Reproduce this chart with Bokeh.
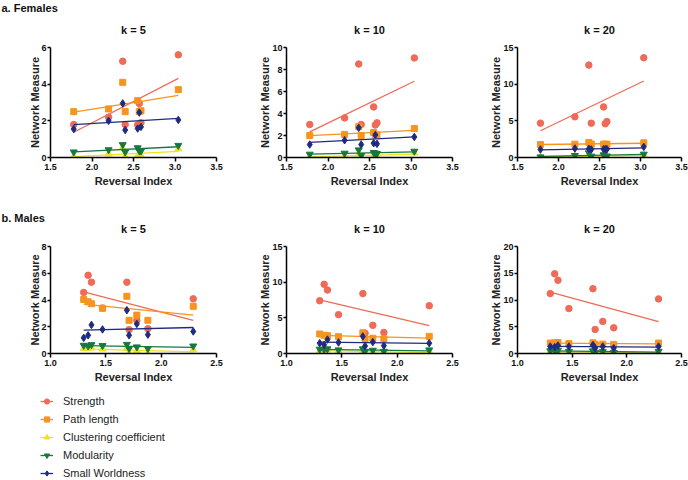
import numpy as np
from bokeh.plotting import figure
from bokeh.layouts import row, column
from bokeh.models import Range1d, FixedTicker, NumeralTickFormatter, Label, Legend, LegendItem
from bokeh.embed import file_html
from bokeh.resources import INLINE

# ---------------- data ----------------
series_names = ["Strength", "Path length", "Clustering coefficient", "Modularity", "Small Worldness"]
series_colors = ["#EF6A57", "#F7941D", "#F0E21C", "#15793F", "#1F2B7F"]
series_markers = ["circle", "square", "triangle", "inverted_triangle", "diamond"]

female_x = [1.78, 2.20, 2.37, 2.40, 2.55, 2.57, 2.59, 3.04]
male_x = [1.30, 1.34, 1.37, 1.47, 1.69, 1.71, 1.78, 1.88, 2.29]

# Females, k = 5
f5_strength = [1.80, 2.20, 5.25, 1.80, 1.78, 2.95, 1.90, 5.60]
f5_path = [2.50, 2.65, 4.10, 2.50, 3.10, 2.50, 2.55, 3.70]
f5_clustering = [0.05, 0.20, 0.53, 0.05, 0.10, 0.08, 0.13, 0.47]
f5_modularity = [0.30, 0.42, 0.70, 0.30, 0.53, 0.36, 0.35, 0.66]
f5_smallworld = [1.55, 2.00, 2.95, 1.50, 1.58, 2.45, 1.67, 2.05]

# Females, k = 10
f10_strength = [3.00, 3.60, 8.50, 3.00, 4.60, 2.95, 3.15, 9.05]
f10_path = [2.00, 2.10, 2.80, 2.00, 2.27, 2.05, 2.05, 2.63]
f10_clustering = [0.09, 0.18, 0.33, 0.06, 0.15, 0.12, 0.12, 0.42]
f10_modularity = [0.30, 0.39, 0.69, 0.18, 0.45, 0.39, 0.36, 0.57]
f10_smallworld = [1.18, 1.57, 2.70, 1.18, 1.30, 2.05, 1.24, 1.87]

# Females, k = 20
f20_strength = [4.68, 5.55, 12.60, 4.68, 6.90, 4.60, 4.90, 13.60]
f20_path = [1.77, 1.82, 2.05, 1.82, 1.82, 1.80, 1.82, 2.00]
f20_clustering = [0.10, 0.20, 0.35, 0.08, 0.15, 0.12, 0.12, 0.40]
f20_modularity = [0.08, 0.27, 0.64, 0.18, 0.36, 0.15, 0.20, 0.45]
f20_smallworld = [1.09, 1.23, 1.20, 1.10, 1.14, 1.14, 1.14, 1.45]

# Males, k = 5
m5_strength = [4.57, 5.85, 5.33, 3.40, 5.33, 1.78, 2.48, 1.85, 4.09]
m5_path = [4.04, 3.87, 3.72, 3.38, 4.28, 2.48, 2.87, 2.48, 3.53]
m5_clustering = [0.37, 0.39, 0.42, 0.34, 0.37, 0.02, 0.20, 0.02, 0.29]
m5_modularity = [0.61, 0.56, 0.66, 0.59, 0.68, 0.37, 0.49, 0.37, 0.56]
m5_smallworld = [1.17, 1.36, 2.14, 1.80, 3.24, 1.36, 2.21, 1.41, 1.65]

# Males, k = 10
m10_strength = [7.40, 9.70, 8.90, 5.45, 8.40, 2.85, 3.95, 2.95, 6.70]
m10_path = [2.73, 2.55, 2.50, 2.36, 2.90, 1.95, 2.14, 2.05, 2.40]
m10_clustering = [0.40, 0.45, 0.50, 0.35, 0.40, 0.03, 0.20, 0.03, 0.30]
m10_modularity = [0.60, 0.55, 0.65, 0.50, 0.65, 0.30, 0.45, 0.30, 0.50]
m10_smallworld = [1.45, 1.23, 1.95, 1.55, 2.40, 1.05, 1.60, 1.10, 1.45]

# Males, k = 20
m20_strength = [11.2, 14.9, 13.7, 8.4, 12.1, 4.5, 6.0, 4.8, 10.2]
m20_path = [1.95, 2.00, 2.05, 1.85, 2.00, 1.70, 1.75, 1.70, 1.95]
m20_clustering = [0.35, 0.40, 0.45, 0.30, 0.35, 0.02, 0.15, 0.02, 0.25]
m20_modularity = [0.50, 0.50, 0.60, 0.40, 0.50, 0.20, 0.35, 0.20, 0.40]
m20_smallworld = [1.30, 1.20, 1.50, 1.30, 1.60, 1.00, 1.30, 1.00, 1.30]

female_xticks = [1.5, 2.0, 2.5, 3.0, 3.5]
male_xticks = [1.0, 1.5, 2.0, 2.5]
female_yticks = [[0, 2, 4, 6], [0, 2, 4, 6, 8, 10], [0, 5, 10, 15]]
male_yticks = [[0, 2, 4, 6, 8], [0, 5, 10, 15], [0, 5, 10, 15, 20]]
titles = ["k = 5", "k = 10", "k = 20"]
headers = ["a. Females", "b. Males"]

FONT = "Liberation Sans"
MARKER_SIZE = {"circle": 6.5, "square": 6, "triangle": 7, "inverted_triangle": 7, "diamond": 7.5}

# ---------------- layout geometry ----------------
W = 688
widths = [236, 231, 221]
lefts = [50, 50, 50]
rights = [20, 15, 7]


def make_panel(x, ys, xticks, yticks, width, bl, br, bt, frame_h, bb):
    p = figure(width=width, height=bt + frame_h + bb,
               x_range=Range1d(xticks[0], xticks[-1]), y_range=Range1d(yticks[0], yticks[-1]),
               output_backend="svg", toolbar_location=None,
               min_border_left=bl, min_border_right=br, min_border_top=bt, min_border_bottom=bb)
    p.outline_line_color = None
    p.xgrid.visible = False
    p.ygrid.visible = False
    p.xaxis.ticker = FixedTicker(ticks=xticks)
    p.xaxis.formatter = NumeralTickFormatter(format="0.0")
    p.yaxis.ticker = FixedTicker(ticks=yticks)
    p.xaxis.axis_label = "Reversal Index"
    p.yaxis.axis_label = "Network Measure"
    for ax in (p.xaxis[0], p.yaxis[0]):
        ax.axis_line_width = 1.5
        ax.axis_line_color = "black"
        ax.major_tick_line_width = 1.5
        ax.major_tick_line_color = "black"
        ax.major_tick_in = 0
        ax.minor_tick_line_color = None
        ax.major_label_text_font = FONT
        ax.major_label_text_font_size = "9px"
        ax.major_label_text_font_style = "bold"
        ax.major_label_text_color = "#111111"
        ax.axis_label_text_font = FONT
        ax.axis_label_text_font_size = "11px"
        ax.axis_label_text_font_style = "bold"
        ax.axis_label_text_color = "#222222"
    xa_, ya_ = p.xaxis[0], p.yaxis[0]
    xa_.major_tick_out = 4
    xa_.major_label_standoff = 2
    xa_.axis_label_standoff = 2
    ya_.major_tick_out = 3
    ya_.major_label_standoff = 1
    ya_.axis_label_standoff = -3 if yticks[-1] < 10 else -2
    for y, c, m in zip(ys, series_colors, series_markers):
        xa = np.array(x, dtype=float)
        ya = np.array(y, dtype=float)
        slope, icpt = np.polyfit(xa, ya, 1)
        lx = np.array([xa.min(), xa.max()])
        p.line(lx, slope * lx + icpt, line_color=c, line_width=1.3)
        p.scatter(x, y, marker=m, size=MARKER_SIZE[m], fill_color=c, line_color=c)
    return p


def make_strip(height, header, header_y, title_y):
    s = figure(width=W, height=height, x_range=Range1d(0, 1), y_range=Range1d(0, 1),
               output_backend="svg", toolbar_location=None, min_border=0,
               x_axis_location=None, y_axis_location=None)
    s.outline_line_color = None
    s.xgrid.visible = False
    s.ygrid.visible = False
    s.add_layout(Label(x=1, y=header_y, x_units="screen", y_units="screen", text=header,
                       text_font=FONT, text_font_size="11px", text_font_style="bold",
                       text_color="#111111", text_baseline="middle", text_align="left"))
    x0 = 0
    for i in range(3):
        frame_w = widths[i] - lefts[i] - rights[i]
        cx = x0 + lefts[i] + frame_w / 2
        s.add_layout(Label(x=cx, y=title_y, x_units="screen", y_units="screen", text=titles[i],
                           text_font=FONT, text_font_size="11px", text_font_style="bold",
                           text_color="#111111", text_baseline="middle", text_align="center"))
        x0 += widths[i]
    return s


female_sets = [
    [f5_strength, f5_path, f5_clustering, f5_modularity, f5_smallworld],
    [f10_strength, f10_path, f10_clustering, f10_modularity, f10_smallworld],
    [f20_strength, f20_path, f20_clustering, f20_modularity, f20_smallworld],
]
male_sets = [
    [m5_strength, m5_path, m5_clustering, m5_modularity, m5_smallworld],
    [m10_strength, m10_path, m10_clustering, m10_modularity, m10_smallworld],
    [m20_strength, m20_path, m20_clustering, m20_modularity, m20_smallworld],
]

strip1 = make_strip(40, headers[0], 33, 11)
top_row = [make_panel(female_x, female_sets[i], female_xticks, female_yticks[i],
                      widths[i], lefts[i], rights[i], 7, 110, 35) for i in range(3)]
strip2 = make_strip(47, headers[1], 22, 11)
bottom_row = [make_panel(male_x, male_sets[i], male_xticks, male_yticks[i],
                         widths[i], lefts[i], rights[i], 7, 109, 30) for i in range(3)]

# ---------------- legend strip (proxies drawn out of view) ----------------
leg = figure(width=W, height=95, x_range=Range1d(100, 101), y_range=Range1d(100, 101),
             output_backend="svg", toolbar_location=None, min_border=0,
             x_axis_location=None, y_axis_location=None)
leg.outline_line_color = None
leg.xgrid.visible = False
leg.ygrid.visible = False
items = []
for y, n, c, m in zip(male_sets[0], series_names, series_colors, series_markers):
    lr = leg.line(male_x, y, line_color=c, line_width=1.3)
    sr = leg.scatter(male_x, y, marker=m, size=MARKER_SIZE[m], fill_color=c, line_color=c)
    items.append(LegendItem(label=n, renderers=[lr, sr]))
legend = Legend(items=items, location=(40, 0), orientation="vertical",
                glyph_width=13, glyph_height=14, label_height=14, spacing=4,
                label_standoff=10, padding=0, margin=0,
                border_line_color=None, background_fill_alpha=0,
                label_text_font=FONT, label_text_font_size="11px", label_text_color="#222222")
leg.add_layout(legend)

layout = column(strip1, row(*top_row), strip2, row(*bottom_row), leg)
open("out.html", "w").write(file_html(layout, INLINE))
